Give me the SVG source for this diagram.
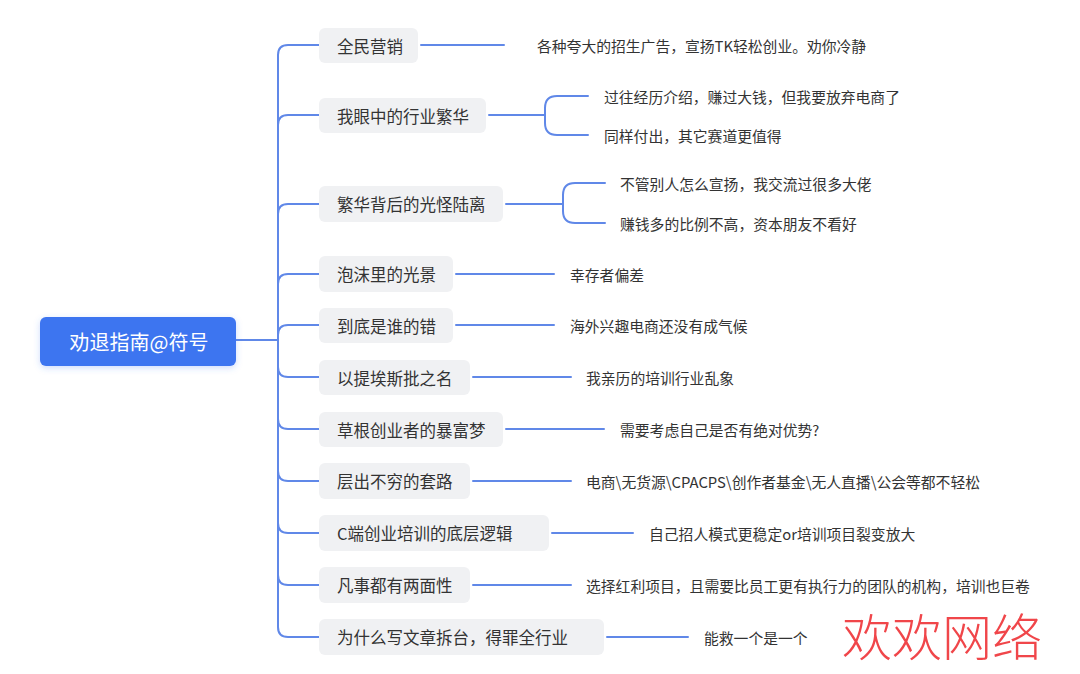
<svg xmlns="http://www.w3.org/2000/svg" width="1080" height="674" viewBox="0 0 1080 674">
<defs>
<filter id="sh" x="-20%" y="-30%" width="140%" height="170%">
<feDropShadow dx="0" dy="2" stdDeviation="3" flood-color="#3d74f0" flood-opacity="0.25"/>
</filter>
<style>
.c{fill:none;stroke:#6088e8;stroke-width:2;stroke-linecap:round}
.n{fill:#f0f1f3}
.t{font-family:"Noto Sans CJK SC","Liberation Sans",sans-serif;font-size:16.5px;fill:#333;dominant-baseline:central}
.s{font-family:"Noto Sans CJK SC","Liberation Sans",sans-serif;font-size:14.8px;fill:#333;dominant-baseline:central}
</style>
</defs>
<rect width="1080" height="674" fill="#fff"/>
<g id="connectors">
<path class="c" d="M236,340 H278"/>
<path class="c" d="M278,340 V55 Q278,45 288,45 H320"/>
<path class="c" d="M278,340 V125 Q278,115 288,115 H320"/>
<path class="c" d="M278,340 V214 Q278,204 288,204 H320"/>
<path class="c" d="M278,340 V284 Q278,274 288,274 H320"/>
<path class="c" d="M278,340 V335 Q278,325 288,325 H320"/>
<path class="c" d="M278,340 V367 Q278,377 288,377 H320"/>
<path class="c" d="M278,340 V419 Q278,429 288,429 H320"/>
<path class="c" d="M278,340 V471 Q278,481 288,481 H320"/>
<path class="c" d="M278,340 V523 Q278,533 288,533 H320"/>
<path class="c" d="M278,340 V575 Q278,585 288,585 H320"/>
<path class="c" d="M278,340 V627 Q278,637 288,637 H320"/>
<path class="c" d="M421,45 H504"/>
<path class="c" d="M489,115 H545"/>
<path class="c" d="M545,115 V108 Q545,96 557,96 H588"/>
<path class="c" d="M545,115 V123 Q545,135 557,135 H588"/>
<path class="c" d="M506,204 H563"/>
<path class="c" d="M563,204 V195 Q563,183 575,183 H605"/>
<path class="c" d="M563,204 V211 Q563,223 575,223 H605"/>
<path class="c" d="M456,274 H554"/>
<path class="c" d="M456,325 H554"/>
<path class="c" d="M473,377 H571"/>
<path class="c" d="M506,429 H604"/>
<path class="c" d="M473,481 H571"/>
<path class="c" d="M552,533 H633"/>
<path class="c" d="M473,585 H571"/>
<path class="c" d="M607,637 H688"/>
</g>
<g id="root">
<rect x="40" y="317" width="196" height="49" rx="6" fill="#3d74f0" filter="url(#sh)"/>
<text x="139" y="341" text-anchor="middle" style="font-family:'Noto Sans CJK SC','Liberation Sans',sans-serif;font-size:20px;fill:#fff;dominant-baseline:central">劝退指南@符号</text>
</g>
<g id="n1"><rect class="n" x="319" y="28" width="99" height="35" rx="6"/><text class="t" x="337" y="45.5">全民营销</text></g>
<g id="n1c"><text class="s" x="537" y="45">各种夸大的招生广告，宣扬TK轻松创业。劝你冷静</text></g>
<g id="n2"><rect class="n" x="319" y="98" width="167" height="35" rx="6"/><text class="t" x="337" y="115.5">我眼中的行业繁华</text></g>
<g id="n2a"><text class="s" x="604" y="96">过往经历介绍，赚过大钱，但我要放弃电商了</text></g>
<g id="n2b"><text class="s" x="604" y="135">同样付出，其它赛道更值得</text></g>
<g id="n3"><rect class="n" x="319" y="186" width="184" height="36" rx="6"/><text class="t" x="337" y="204">繁华背后的光怪陆离</text></g>
<g id="n3a"><text class="s" x="620" y="183">不管别人怎么宣扬，我交流过很多大佬</text></g>
<g id="n3b"><text class="s" x="620" y="223">赚钱多的比例不高，资本朋友不看好</text></g>
<g id="n4"><rect class="n" x="319" y="256" width="134" height="36" rx="6"/><text class="t" x="337" y="274">泡沫里的光景</text></g>
<g id="n4c"><text class="s" x="570" y="274">幸存者偏差</text></g>
<g id="n5"><rect class="n" x="319" y="308" width="134" height="35" rx="6"/><text class="t" x="337" y="325.5">到底是谁的错</text></g>
<g id="n5c"><text class="s" x="570" y="325">海外兴趣电商还没有成气候</text></g>
<g id="n6"><rect class="n" x="319" y="360" width="151" height="35" rx="6"/><text class="t" x="337" y="377.5">以提埃斯批之名</text></g>
<g id="n6c"><text class="s" x="586" y="377">我亲历的培训行业乱象</text></g>
<g id="n7"><rect class="n" x="319" y="412" width="184" height="35" rx="6"/><text class="t" x="337" y="429.5">草根创业者的暴富梦</text></g>
<g id="n7c"><text class="s" x="620" y="429">需要考虑自己是否有绝对优势?</text></g>
<g id="n8"><rect class="n" x="319" y="463" width="151" height="36" rx="6"/><text class="t" x="337" y="481">层出不穷的套路</text></g>
<g id="n8c"><text class="s" x="586" y="481">电商\无货源\CPACPS\创作者基金\无人直播\公会等都不轻松</text></g>
<g id="n9"><rect class="n" x="319" y="515" width="230" height="36" rx="6"/><text class="t" x="337" y="533">C端创业培训的底层逻辑</text></g>
<g id="n9c"><text class="s" x="649" y="533">自己招人模式更稳定or培训项目裂变放大</text></g>
<g id="n10"><rect class="n" x="319" y="567" width="151" height="36" rx="6"/><text class="t" x="337" y="585">凡事都有两面性</text></g>
<g id="n10c"><text class="s" x="586" y="585">选择红利项目，且需要比员工更有执行力的团队的机构，培训也巨卷</text></g>
<g id="n11"><rect class="n" x="319" y="619" width="285" height="36" rx="6"/><text class="t" x="337" y="637">为什么写文章拆台，得罪全行业</text></g>
<g id="n11c"><text class="s" x="704" y="637">能救一个是一个</text></g>
<text x="842" y="634" style="font-family:'Noto Sans CJK SC',sans-serif;font-size:50px;font-weight:200;fill:#f0464a;dominant-baseline:central">欢欢网络</text>
</svg>
